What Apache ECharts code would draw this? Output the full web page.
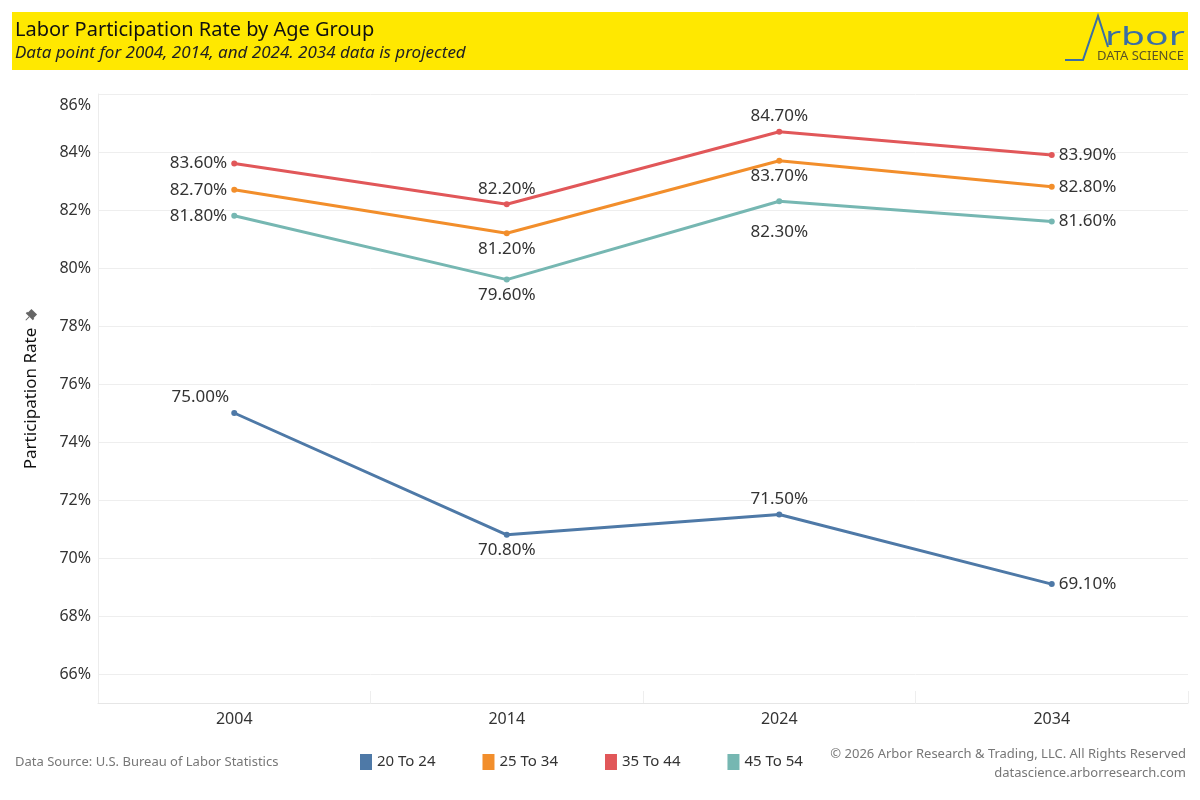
<!DOCTYPE html>
<html><head><meta charset="utf-8">
<script src="https://cdn.jsdelivr.net/npm/echarts@6/dist/echarts.min.js"></script>
<style>html,body{margin:0;padding:0;background:#fff}#c{width:1200px;height:800px}</style>
</head><body><div id="c"></div>
<script>
// ---- data ----
const years = ['2004', '2014', '2024', '2034'];
const seriesNames = ['20 To 24', '25 To 34', '35 To 44', '45 To 54'];
const age20to24 = [75.0, 70.8, 71.5, 69.1];
const age25to34 = [82.7, 81.2, 83.7, 82.8];
const age35to44 = [83.6, 82.2, 84.7, 83.9];
const age45to54 = [81.8, 79.6, 82.3, 81.6];
const yTickLabels = [66, 68, 70, 72, 74, 76, 78, 80, 82, 84, 86];

// ---- styling ----
const colors = ['#4e79a7', '#f28e2b', '#e15759', '#76b7b2'];
const FONT = '"Noto Sans", sans-serif';
const labelPlacement = [
  [{position: 'top', offset: [-34, 0]}, {position: 'bottom'}, {position: 'top'}, {position: 'right'}],
  [{position: 'left'}, {position: 'bottom'}, {position: 'bottom'}, {position: 'right'}],
  [{position: 'left'}, {position: 'top'}, {position: 'top'}, {position: 'right'}],
  [{position: 'left'}, {position: 'bottom'}, {position: 'bottom', offset: [0, 15]}, {position: 'right'}]
];
const allSeries = [age20to24, age25to34, age35to44, age45to54];

const chart = echarts.init(document.getElementById('c'), null, {renderer: 'canvas'});

const series = allSeries.map((vals, si) => ({
  name: seriesNames[si],
  type: 'line',
  data: vals.map((v, i) => ({
    value: v,
    label: Object.assign({show: true}, labelPlacement[si][i])
  })),
  symbol: 'circle',
  symbolSize: 6,
  lineStyle: {width: 3, color: colors[si]},
  itemStyle: {color: colors[si]},
  label: {
    show: true,
    fontFamily: FONT, fontSize: 17, color: '#333',
    distance: 4,
    formatter: p => p.value.toFixed(2) + '%'
  },
  emphasis: {disabled: true},
  z: 3
}));

const topTick = yTickLabels[yTickLabels.length - 1];

chart.setOption({
  animation: false,
  backgroundColor: '#fff',
  color: colors,
  textStyle: {fontFamily: FONT},
  grid: {left: 98, right: 12, top: 94, bottom: 97, containLabel: false},
  legend: {
    data: seriesNames,
    left: 355, top: 749,
    icon: 'rect', itemWidth: 12, itemHeight: 16, itemGap: 47,
    textStyle: {fontFamily: FONT, fontSize: 15, color: '#333'},
    selectedMode: false
  },
  xAxis: {
    type: 'category',
    data: years,
    boundaryGap: true,
    axisLine: {show: true, lineStyle: {color: '#e6e6e6', width: 1}},
    axisTick: {show: true, inside: true, length: 12, lineStyle: {color: '#eeeeee'}},
    axisLabel: {fontFamily: FONT, fontSize: 16, color: '#333', margin: 8},
    splitLine: {show: false}
  },
  yAxis: {
    type: 'value',
    min: 65, max: 86, interval: 1,
    name: 'Participation Rate',
    nameLocation: 'middle',
    nameGap: 58,
    nameRotate: 90,
    nameTextStyle: {fontFamily: FONT, fontSize: 17, color: '#111'},
    axisLine: {show: true, lineStyle: {color: '#ececec', width: 1}},
    axisTick: {show: false},
    axisLabel: {
      fontFamily: FONT, fontSize: 16, color: '#333', margin: 7,
      formatter: v => yTickLabels.indexOf(v) < 0 ? '' : (v === topTick ? '{t|' + v + '%}' : v + '%'),
      rich: {t: {fontFamily: FONT, fontSize: 16, color: '#333', padding: [22, 0, 0, 0]}}
    },
    splitLine: {show: true, lineStyle: {color: ['rgba(0,0,0,0)', '#eeeeee'], width: 1}}
  },
  series: series,
  graphic: [
    {type: 'rect', shape: {x: 12, y: 12, width: 1176, height: 58}, style: {fill: '#ffe800'}, z: 0},
    {type: 'text', left: 15, top: 20, style: {text: 'Labor Participation Rate by Age Group', fontFamily: FONT, fontSize: 20, fill: '#111'}},
    {type: 'text', left: 15, top: 45, style: {text: 'Data point for 2004, 2014, and 2024. 2034 data is projected', fontFamily: FONT, fontSize: 17, fontStyle: 'italic', fill: '#222'}},
    // logo
    {type: 'polyline', shape: {points: [[1065, 60], [1083, 60], [1098, 16], [1108, 47]]}, style: {stroke: '#3a6ea5', lineWidth: 2, fill: null}},
    {type: 'text', x: 1105, y: 25, scaleX: 1.5, style: {text: 'rbor', fontFamily: FONT, fontSize: 26, fill: '#3a6ea5'}},
    {type: 'text', left: 1097, top: 50, style: {text: 'DATA SCIENCE', fontFamily: FONT, fontSize: 13, fill: '#5a5426'}},
    // pin icon
    {type: 'group', x: 30, y: 316, rotation: -Math.PI / 4, children: [
      {type: 'rect', shape: {x: -4, y: -6, width: 8, height: 6}, style: {fill: '#666'}},
      {type: 'rect', shape: {x: -5, y: -1, width: 10, height: 2}, style: {fill: '#666'}},
      {type: 'line', shape: {x1: 0, y1: 1, x2: 0, y2: 6}, style: {stroke: '#666', lineWidth: 1}}
    ]},
    // footer
    {type: 'text', left: 15, top: 756, style: {text: 'Data Source: U.S. Bureau of Labor Statistics', fontFamily: FONT, fontSize: 13, fill: '#777'}},
    {type: 'text', right: 14, top: 748, style: {text: '\u00a9 2026 Arbor Research & Trading, LLC. All Rights Reserved', fontFamily: FONT, fontSize: 13, fill: '#777', align: 'right'}},
    {type: 'text', right: 14, top: 767, style: {text: 'datascience.arborresearch.com', fontFamily: FONT, fontSize: 13, fill: '#777', align: 'right'}}
  ]
});
</script>
</body></html>
